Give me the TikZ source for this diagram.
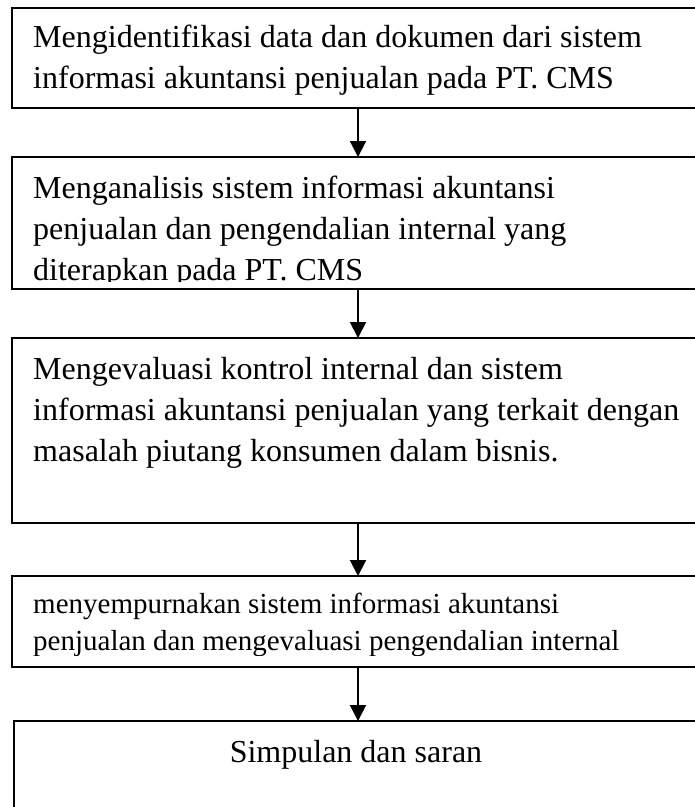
\documentclass[tikz,border=0pt]{standalone}
\usepackage{fontspec}
\setmainfont{Liberation Serif}
\usetikzlibrary{arrows.meta}
\begin{document}
\begin{tikzpicture}[x=1pt,y=-1pt,
  stepbox/.style={draw=black,line width=2pt,inner sep=0pt,outer sep=0pt,anchor=north west,minimum width=690pt},
  bigline/.style={anchor=base west,inner sep=0pt,font=\fontsize{32}{41}\selectfont},
  smallline/.style={anchor=base west,inner sep=0pt,font=\fontsize{29}{37}\selectfont},
  arr/.style={line width=2pt,-{Triangle[width=16pt,length=16pt]}}]
\useasboundingbox (0,0) rectangle (695,807);
\fill[white] (0,0) rectangle (695,807);

% column of the connecting arrows
\coordinate (ax) at (358,0);

% step 1
\node[stepbox,minimum height=100pt] (b1) at (12,8) {};
\node[bigline] (t1a) at (33,47) {Mengidentifikasi data dan dokumen dari sistem};
\node[bigline] (t1b) at (33,88) {informasi akuntansi penjualan pada PT. CMS};

% step 2 (last line runs into the frame and is cut off)
\node[stepbox,minimum height=132pt] (b2) at (12,157) {};
\begin{scope}
  \clip (12,157) rectangle (702,281);
  \node[bigline] (t2a) at (33,198) {Menganalisis sistem informasi akuntansi};
  \node[bigline] (t2b) at (33,239) {penjualan dan pengendalian internal yang};
  \node[bigline] (t2c) at (33,280) {diterapkan pada PT. CMS};
\end{scope}

% step 3
\node[stepbox,minimum height=185pt] (b3) at (12,338) {};
\node[bigline] (t3a) at (33,379) {Mengevaluasi kontrol internal dan sistem};
\node[bigline] (t3b) at (33,420) {informasi akuntansi penjualan yang terkait dengan};
\node[bigline] (t3c) at (33,461) {masalah piutang konsumen dalam bisnis.};

% step 4
\node[stepbox,minimum height=91pt] (b4) at (12,576) {};
\begin{scope}
  \clip (12,576) rectangle (702,655);
  \node[smallline] (t4a) at (33,613) {menyempurnakan sistem informasi akuntansi};
  \node[smallline] (t4b) at (33,650) {penjualan dan mengevaluasi pengendalian internal};
\end{scope}

% step 5
\node[stepbox,minimum width=688pt,minimum height=110pt] (b5) at (14,721) {};
\node[anchor=base,inner sep=0pt,font=\fontsize{32}{41}\selectfont] (t5) at (356,762) {Simpulan dan saran};

% connectors
\draw[arr] (b1.south -| ax) -- (b2.north -| ax);
\draw[arr] (b2.south -| ax) -- (b3.north -| ax);
\draw[arr] (b3.south -| ax) -- (b4.north -| ax);
\draw[arr] (b4.south -| ax) -- (b5.north -| ax);
\end{tikzpicture}
\end{document}
